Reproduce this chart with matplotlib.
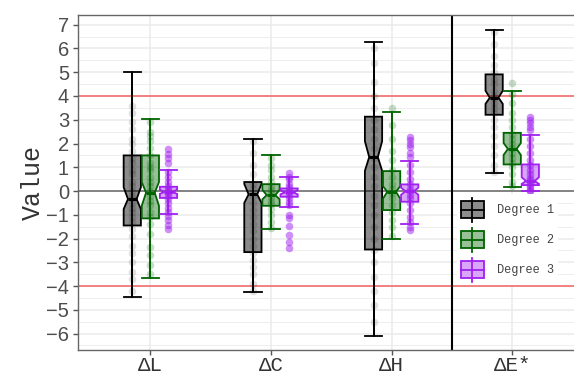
import matplotlib
matplotlib.use("Agg")
import matplotlib.pyplot as plt
from matplotlib.legend_handler import HandlerBase
from matplotlib.patches import Rectangle, Patch
from matplotlib.lines import Line2D

categories = ["ΔL", "ΔC", "ΔH", "ΔE*"]
degrees = ["Degree 1", "Degree 2", "Degree 3"]

# box statistics, one value per category (ΔL, ΔC, ΔH, ΔE*)
d1_whislo = [-4.48, -4.24, -6.08, 0.74]
d1_q1 = [-1.45, -2.57, -2.46, 3.21]
d1_med = [-0.34, -0.14, 1.43, 3.93]
d1_q3 = [1.50, 0.38, 3.13, 4.91]
d1_whishi = [5.02, 2.20, 6.26, 6.79]
d1_cilo = [-0.76, -0.50, 0.85, 3.67]
d1_cihi = [0.16, 0.30, 2.10, 4.22]

d2_whislo = [-3.65, -1.59, -2.01, 0.17]
d2_q1 = [-1.15, -0.62, -0.80, 1.12]
d2_med = [-0.07, -0.17, -0.03, 1.77]
d2_q3 = [1.50, 0.29, 0.84, 2.45]
d2_whishi = [3.05, 1.50, 3.33, 4.22]
d2_cilo = [-0.62, -0.35, -0.32, 1.52]
d2_cihi = [0.38, 0.05, 0.20, 2.02]

d3_whislo = [-0.95, -0.66, -1.40, 0.00]
d3_q1 = [-0.29, -0.24, -0.45, 0.25]
d3_med = [-0.04, -0.06, -0.01, 0.42]
d3_q3 = [0.18, 0.11, 0.28, 1.12]
d3_whishi = [0.87, 0.58, 1.28, 2.36]
d3_cilo = [-0.12, -0.14, -0.16, 0.30]
d3_cihi = [0.06, 0.04, 0.14, 0.58]

# individual observations (read from the jittered points)
l_d1_pts = [3.6, 3.3, 2.9, 2.6, 2.2, 2.0, 1.7, 1.4, 1.2, 0.9, 0.7, 0.4, 0.2, 0.0,
            -0.2, -0.3, -0.5, -0.7, -0.9, -1.1, -1.3, -1.6, -1.9, -2.3, -2.6,
            -3.0, -3.4, -3.7, -4.2]
l_d2_pts = [2.9, 2.5, 2.3, 2.1, 1.8, 1.5, 1.2, 1.0, 0.9, 0.6, 0.4, 0.2, 0.0,
            -0.2, -0.4, -0.6, -0.9, -1.1, -1.4, -1.8, -2.35, -2.7, -3.1, -3.5]
l_d3_pts = [1.77, 1.55, 1.4, 1.2, 0.8, 0.6, 0.4, 0.2, 0.1, 0.0, -0.1, -0.2,
            -0.35, -0.5, -0.7, -0.9, -1.05, -1.2, -1.45, -1.61]
c_d1_pts = [2.1, 1.6, 1.1, 0.7, 0.3, 0.1, -0.2, -0.5, -0.8, -1.1, -1.4, -1.7,
            -2.0, -2.3, -2.6, -2.9, -3.2, -3.5, -3.9, -4.2]
c_d2_pts = [1.4, 1.1, 0.9, 0.6, 0.4, 0.2, 0.05, -0.1, -0.25, -0.4, -0.55,
            -0.75, -1.0, -1.3, -1.55]
c_d3_pts = [0.75, 0.6, 0.5, 0.3, 0.15, 0.05, -0.05, -0.15, -0.3, -0.45, -0.6,
            -1.01, -1.15, -1.47, -1.85, -2.13, -2.39]
h_d1_pts = [6.0, 5.4, 4.6, 4.0, 3.5, 3.0, 2.6, 2.2, 1.8, 1.4, 1.0, 0.6, 0.2,
            -0.2, -0.6, -1.0, -1.5, -2.0, -2.5, -3.0, -3.6, -4.2, -4.8, -5.5]
h_d2_pts = [3.48, 2.8, 2.2, 1.7, 1.3, 0.9, 0.6, 0.3, 0.1, -0.1, -0.3, -0.6,
            -0.9, -1.2, -1.5, -1.9]
h_d3_pts = [2.29, 2.15, 2.0, 1.85, 1.6, 1.45, 1.1, 0.8, 0.5, 0.3, 0.1, 0.0,
            -0.15, -0.3, -0.5, -0.8, -1.1, -1.3, -1.5, -1.64]
e_d1_pts = [6.7, 6.2, 5.7, 5.3, 5.0, 4.7, 4.5, 4.2, 4.0, 3.9, 3.7, 3.5, 3.3,
            3.0, 2.7, 2.3, 1.9, 1.5, 1.1, 0.8]
e_d2_pts = [4.53, 4.1, 3.7, 3.3, 3.0, 2.7, 2.4, 2.2, 2.0, 1.8, 1.6, 1.4, 1.2,
            1.0, 0.7, 0.4, 0.2]
e_d3_pts = [3.13, 3.0, 2.85, 2.7, 2.55, 2.2, 1.9, 1.6, 1.3, 1.1, 0.9, 0.7,
            0.55, 0.45, 0.35, 0.25, 0.15, 0.05, 0.0]

EDGE = ["black", "#006400", "#A020F0"]
FILL = [(0, 0, 0, 0.45), (0, 0.39, 0, 0.4), (0.63, 0.13, 0.94, 0.4)]
PT_ALPHA = [0.12, 0.22, 0.5]
OFFSETS = [-0.15, 0.0, 0.15]
WIDTH = 0.143

MONO = "Liberation Mono"
SANS = "Liberation Sans"


class BoxHandler(HandlerBase):
    def create_artists(self, legend, orig_handle, xdescent, ydescent,
                       width, height, fontsize, trans):
        fc = orig_handle.get_facecolor()
        ec = orig_handle.get_edgecolor()
        x0, y0 = -xdescent, -ydescent
        cx, cy = x0 + width / 2, y0 + height / 2
        bh = height * 0.68
        wline = Line2D([cx, cx], [y0, y0 + height], color=ec, lw=1.3,
                       transform=trans)
        rect = Rectangle((x0, cy - bh / 2), width, bh, facecolor=fc,
                         edgecolor=ec, lw=1.3, transform=trans)
        med = Line2D([x0, x0 + width], [cy, cy], color=ec, lw=1.3,
                     transform=trans)
        return [wline, rect, med]


def box_stats(whislo, q1, med, q3, whishi, cilo, cihi):
    return [dict(whislo=a, q1=b, med=c, q3=d, whishi=e, cilo=f, cihi=g)
            for a, b, c, d, e, f, g in zip(whislo, q1, med, q3, whishi, cilo, cihi)]


def main():
    fig = plt.figure(figsize=(5.74, 3.75), dpi=100)
    ax = fig.add_axes([78 / 574, 25 / 375, 506.6 / 574, 335.5 / 375])

    stats = [
        box_stats(d1_whislo, d1_q1, d1_med, d1_q3, d1_whishi, d1_cilo, d1_cihi),
        box_stats(d2_whislo, d2_q1, d2_med, d2_q3, d2_whishi, d2_cilo, d2_cihi),
        box_stats(d3_whislo, d3_q1, d3_med, d3_q3, d3_whishi, d3_cilo, d3_cihi),
    ]
    points = [
        [l_d1_pts, c_d1_pts, h_d1_pts, e_d1_pts],
        [l_d2_pts, c_d2_pts, h_d2_pts, e_d2_pts],
        [l_d3_pts, c_d3_pts, h_d3_pts, e_d3_pts],
    ]
    cat_x = list(range(1, len(categories) + 1))

    # reference lines
    ax.axhline(4, color="#F28080", lw=1.4, zorder=1.5)
    ax.axhline(-4, color="#F28080", lw=1.4, zorder=1.5)
    ax.axhline(0, color="#7a7a7a", lw=1.3, zorder=1.5)
    ax.axvline(3.5, color="black", lw=1.5, zorder=1.5)

    for k in range(3):
        pos = [x + OFFSETS[k] for x in cat_x]
        ax.vlines(pos, [s["whislo"] for s in stats[k]],
                  [s["whishi"] for s in stats[k]], color=EDGE[k], lw=1.3,
                  zorder=2)
        ax.bxp(stats[k], positions=pos, widths=WIDTH, capwidths=WIDTH,
               shownotches=True, showfliers=False, patch_artist=True,
               boxprops=dict(facecolor=FILL[k], edgecolor=EDGE[k], lw=1.3),
               medianprops=dict(color=EDGE[k], lw=2.2),
               whiskerprops=dict(color=EDGE[k], lw=1.3),
               capprops=dict(color=EDGE[k], lw=1.3),
               zorder=3, manage_ticks=False)
        for x, pts in zip(pos, points[k]):
            ax.scatter([x] * len(pts), pts, s=30, color=EDGE[k],
                       alpha=PT_ALPHA[k], linewidths=0, zorder=4)

    ax.set_xlim(0.4, 4.6)
    ax.set_ylim(-6.69, 7.43)
    ax.set_xticks(cat_x)
    ax.set_xticklabels(categories, fontfamily=MONO, fontsize=15, color="#333333")
    ax.set_yticks(range(-6, 8))
    ax.set_yticks([v + 0.5 for v in range(-7, 7)], minor=True)
    for lab in ax.get_yticklabels():
        lab.set_fontfamily(SANS)
        lab.set_fontsize(14.5)
        lab.set_color("#4d4d4d")
    ax.tick_params(axis="both", which="major", length=3.5, width=1,
                   color="#555555", pad=3)
    ax.tick_params(axis="x", which="major", pad=1)
    ax.tick_params(axis="y", which="minor", length=0)
    ax.grid(True, which="major", color="#EBEBEB", lw=1.1, zorder=0)
    ax.grid(True, which="minor", axis="y", color="#EBEBEB", lw=0.6, zorder=0)
    ax.set_axisbelow(True)
    for sp in ax.spines.values():
        sp.set_color("#666666")
        sp.set_linewidth(1)

    ax.set_ylabel("Value", fontfamily=MONO, fontsize=18, color="#333333",
                  labelpad=0.5)

    handles = [Patch(facecolor=FILL[k], edgecolor=EDGE[k]) for k in range(3)]
    leg = ax.legend(handles, degrees, handler_map={Patch: BoxHandler()},
                    loc="upper left", bbox_to_anchor=(457 / 574, 1 - 194 / 375),
                    bbox_transform=fig.transFigure, frameon=True,
                    facecolor="white", edgecolor="none", framealpha=1,
                    fancybox=False,
                    prop=dict(family=MONO, size=8.6), labelcolor="#444444",
                    handlelength=1.97, handleheight=2.72, labelspacing=0.5,
                    handletextpad=1.1, borderpad=0.3, borderaxespad=0)
    leg.set_zorder(5)

    fig.savefig("out.png", dpi=100)


if __name__ == "__main__":
    main()
